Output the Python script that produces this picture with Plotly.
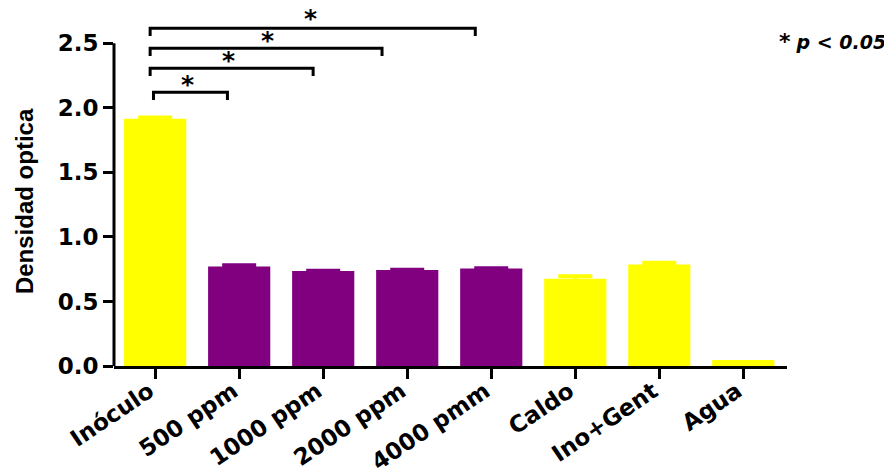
import plotly.graph_objects as go

categories = ["Inóculo", "500 ppm", "1000 ppm", "2000 ppm", "4000 pmm", "Caldo", "Ino+Gent", "Agua"]
means = [1.915, 0.770, 0.735, 0.743, 0.756, 0.675, 0.787, 0.046]
sds = [0.010, 0.010, 0.002, 0.002, 0.002, 0.020, 0.012, 0.0]
colors = ["#FFFF00", "#800080", "#800080", "#800080", "#800080", "#FFFF00", "#FFFF00", "#FFFF00"]

# significance comparisons: (left x, right x, bracket level, star x, star y)
brackets = [
    (-0.06, 3.81, 2.616, 1.85, 2.69),
    (-0.06, 2.70, 2.462, 1.34, 2.52),
    (-0.06, 1.88, 2.306, 0.87, 2.37),
    (-0.02, 0.86, 2.120, 0.39, 2.18),
]
ytickvals = [0.0, 0.5, 1.0, 1.5, 2.0, 2.5]
yticktext = ["0.0", "0.5", "1.0", "1.5", "2.0", "2.5"]

fig = go.Figure()
x_idx = list(range(len(categories)))
for i in x_idx:
    fig.add_trace(go.Bar(
        x=[i], y=[means[i]], width=0.74,
        marker=dict(color=colors[i], line=dict(width=0)),
        error_y=dict(type="data", array=[sds[i]], visible=sds[i] > 0,
                     color=colors[i], thickness=4, width=17),
        showlegend=False,
    ))

shapes = []
for (x0, x1, lvl, sx, sy) in brackets:
    shapes.append(dict(
        type="path", xref="x", yref="y",
        path=f"M {x0},{lvl-0.06} L {x0},{lvl} L {x1},{lvl} L {x1},{lvl-0.06}",
        line=dict(color="black", width=3),
    ))
# y axis line up to 2.5
shapes.append(dict(type="line", xref="paper", yref="y", x0=0, x1=0, y0=0, y1=2.5,
                   line=dict(color="black", width=3)))

annotations = []
for (x0, x1, lvl, sx, sy) in brackets:
    annotations.append(dict(x=sx, y=sy, xref="x", yref="y", text="<b>*</b>",
                            showarrow=False, font=dict(family="DejaVu Sans", size=25, color="black")))
annotations.append(dict(x=-0.132, y=0.465, xref="paper", yref="paper", xanchor="center", yanchor="middle",
                        text="<b>Densidad optica</b>",
                        textangle=-90, showarrow=False,
                        font=dict(family="Liberation Sans", size=24, color="black")))
annotations.append(dict(x=1.067, y=0.915, xref="paper", yref="paper", xanchor="center", yanchor="middle",
                        text="<b><span style='font-size:22px'>*</span></b> <b><i>p &lt; 0.05</i></b>",
                        showarrow=False,
                        font=dict(family="DejaVu Sans", size=19, color="black")))

fig.update_layout(
    width=884, height=462,
    margin=dict(l=106, r=105, t=3, b=104),
    plot_bgcolor="white", paper_bgcolor="white",
    bargap=0.26,
    shapes=shapes, annotations=annotations,
    xaxis=dict(range=[-0.49, 7.52], tickvals=x_idx, ticktext=[f"<b>{c}</b>" for c in categories],
               tickangle=-34, ticks="outside", ticklen=10, tickwidth=3, tickcolor="black",
               showline=True, linecolor="black", linewidth=3, showgrid=False, zeroline=False,
               automargin=False, ticklabelstandoff=-10, ticklabelshift=-6,
               tickfont=dict(family="DejaVu Sans", size=23, color="black")),
    yaxis=dict(range=[0, 2.75], tickvals=ytickvals, ticktext=[f"<b>{t}</b>" for t in yticktext],
               ticks="outside", ticklen=10, tickwidth=3, tickcolor="black",
               showline=False, showgrid=False, zeroline=False, automargin=False,
               tickfont=dict(family="DejaVu Sans", size=23, color="black")),
)

fig.write_html("out.html")
